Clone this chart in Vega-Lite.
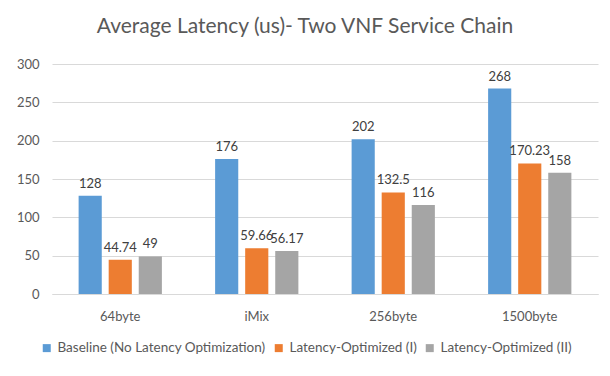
{
  "$schema": "https://vega.github.io/schema/vega-lite/v6.json",
  "autosize": "none",
  "width": 546,
  "height": 230,
  "padding": {"left": 52, "top": 64, "right": 12, "bottom": 82},
  "background": "white",
  "title": {"text": "Average Latency (us)- Two VNF Service Chain", "fontSize": 21, "font": "Lato", "fontWeight": "normal", "color": "#595959", "anchor": "middle", "dx": -20, "offset": 21},
  "data": {"values": [
    {"size": "64byte", "series": "Baseline (No Latency Optimization)", "value": 128},
    {"size": "64byte", "series": "Latency-Optimized (I)", "value": 44.74},
    {"size": "64byte", "series": "Latency-Optimized (II)", "value": 49},
    {"size": "iMix", "series": "Baseline (No Latency Optimization)", "value": 176},
    {"size": "iMix", "series": "Latency-Optimized (I)", "value": 59.66},
    {"size": "iMix", "series": "Latency-Optimized (II)", "value": 56.17},
    {"size": "256byte", "series": "Baseline (No Latency Optimization)", "value": 202},
    {"size": "256byte", "series": "Latency-Optimized (I)", "value": 132.5},
    {"size": "256byte", "series": "Latency-Optimized (II)", "value": 116},
    {"size": "1500byte", "series": "Baseline (No Latency Optimization)", "value": 268},
    {"size": "1500byte", "series": "Latency-Optimized (I)", "value": 170.23},
    {"size": "1500byte", "series": "Latency-Optimized (II)", "value": 158}
  ]},
  "encoding": {
    "x": {"field": "size", "type": "nominal", "sort": ["64byte", "iMix", "256byte", "1500byte"],
      "scale": {"paddingInner": 0.39, "paddingOuter": 0.195},
      "axis": {"title": null, "labelAngle": 0, "ticks": false, "domainColor": "#D9D9D9", "labelPadding": 16, "labelFontSize": 13, "labelFont": "Lato", "labelColor": "#595959"}},
    "xOffset": {"field": "series", "type": "nominal", "sort": ["Baseline (No Latency Optimization)", "Latency-Optimized (I)", "Latency-Optimized (II)"], "scale": {"paddingInner": 0.23}},
    "y": {"field": "value", "type": "quantitative", "scale": {"domain": [0, 300]},
      "axis": {"title": null, "values": [0, 50, 100, 150, 200, 250, 300], "domain": false, "ticks": false, "gridColor": "#D9D9D9", "labelPadding": 13, "labelFontSize": 13, "labelFont": "Lato", "labelColor": "#595959"}}
  },
  "layer": [
    {"mark": {"type": "bar"},
     "encoding": {"color": {"field": "series", "type": "nominal", "sort": ["Baseline (No Latency Optimization)", "Latency-Optimized (I)", "Latency-Optimized (II)"],
       "scale": {"range": ["#5B9BD5", "#ED7D31", "#A5A5A5"]},
       "legend": {"title": null, "orient": "none", "direction": "horizontal", "legendX": -12, "legendY": 277, "symbolType": "square", "symbolSize": 64, "symbolStrokeWidth": 0, "labelFontSize": 13.5, "labelFont": "Lato", "labelColor": "#595959", "labelLimit": 400, "columnPadding": 6, "labelOffset": 4}}}},
    {"mark": {"type": "text", "dy": -12, "fontSize": 13, "font": "Lato", "color": "#404040"},
     "encoding": {"text": {"field": "value", "type": "quantitative"}}}
  ],
  "config": {"view": {"stroke": null}}
}
